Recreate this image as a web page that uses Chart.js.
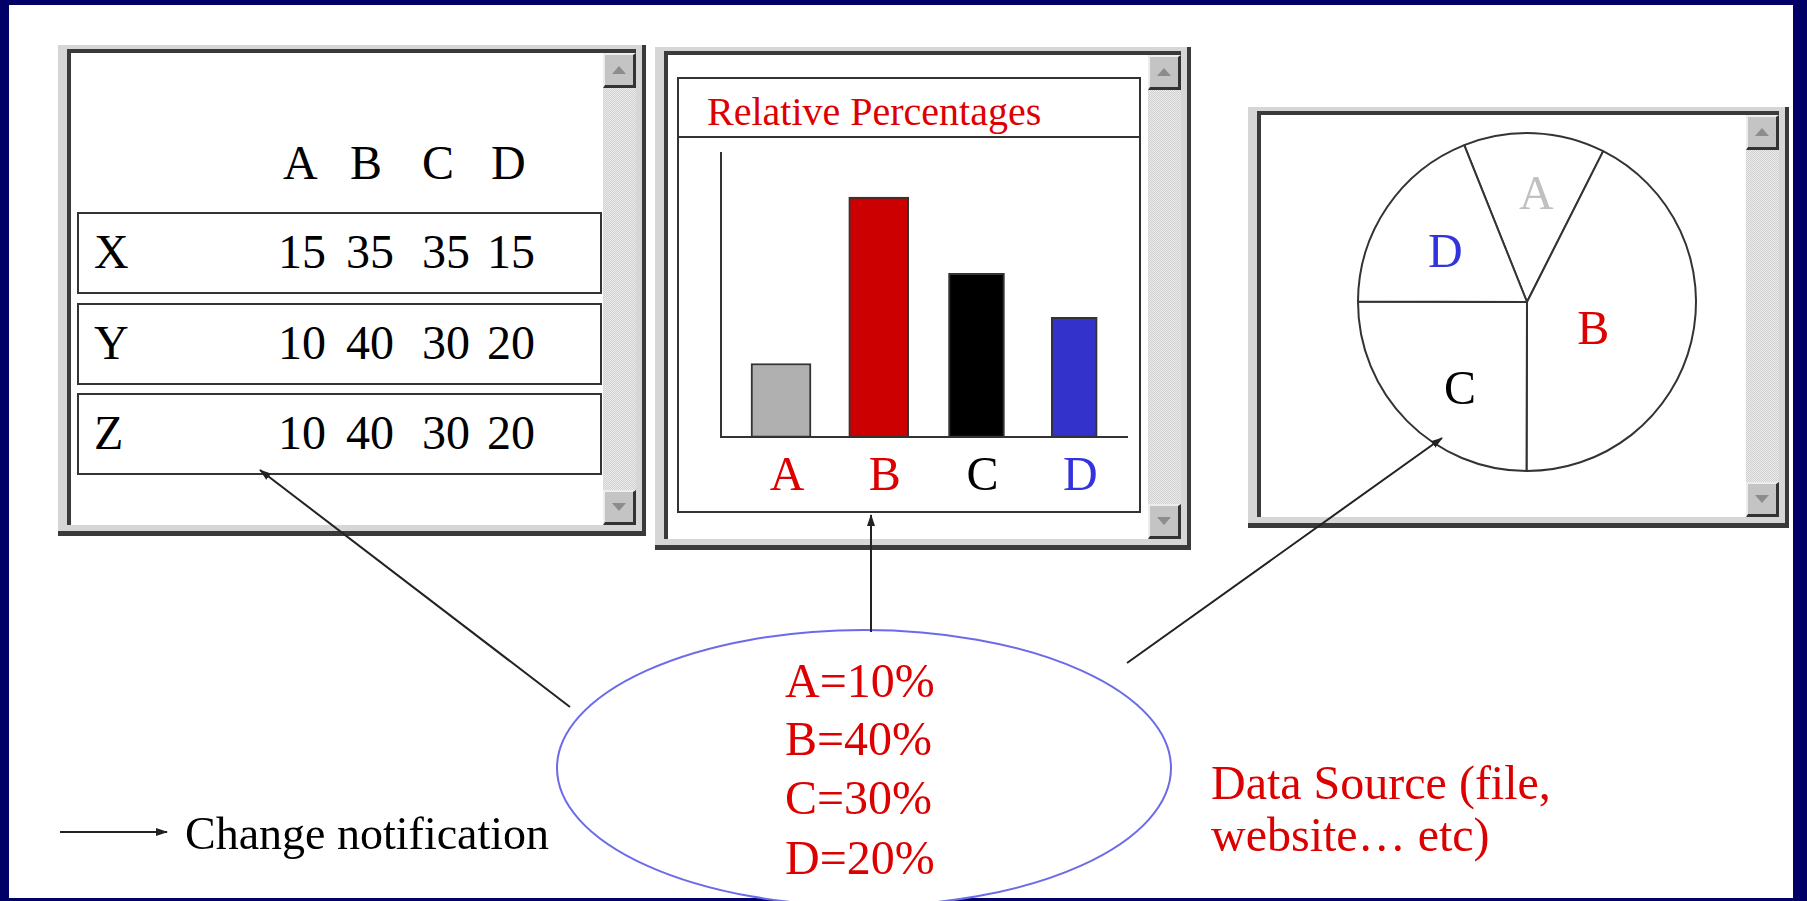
<!DOCTYPE html>
<html>
<head>
<meta charset="utf-8">
<title>Change notification</title>
<script src="https://cdn.jsdelivr.net/npm/chart.js@4.4.0/dist/chart.umd.min.js"></script>
<style>
html, body { margin: 0; padding: 0; }
body {
  width: 1807px; height: 901px; position: relative; overflow: hidden;
  background: #000066;
  font-family: 'Liberation Serif', 'Times New Roman', serif;
}
#slide { position: absolute; left: 9px; top: 5px; width: 1784px; height: 893px; background: #fff; }
.win {
  position: absolute; box-sizing: border-box; background: #d6d6d6;
  padding: 4px 6px 6px 9px;
  border-right: 4px solid #3a3a3a; border-bottom: 5px solid #3a3a3a;
}
.win .in {
  position: relative; width: 100%; height: 100%; box-sizing: border-box;
  border-top: 4px solid #3a3a3a; border-left: 4px solid #3a3a3a; background: #fff;
}
.sb {
  position: absolute; right: 0; top: 0; bottom: 0; width: 33px;
  background: repeating-conic-gradient(#d0d0d0 0 25%, #ebebeb 0 50%) 0 0 / 2px 2px;
}
.btn {
  position: absolute; left: 0; width: 33px; height: 35px; box-sizing: border-box;
  background: #c4c4c4;
  border-top: 2px solid #ededed; border-left: 2px solid #ededed;
  border-right: 3px solid #333; border-bottom: 3px solid #333;
}
.btn.up { top: 0; }
.btn.down { bottom: 0; }
.btn::after {
  content: ''; position: absolute; left: 7px; top: 11px;
  border-left: 7px solid transparent; border-right: 7px solid transparent;
}
.btn.up::after { border-bottom: 8px solid #8c8c8c; }
.btn.down::after { border-top: 8px solid #8c8c8c; }
.t { position: absolute; white-space: nowrap; line-height: 1; }
.box { position: absolute; box-sizing: border-box; border: 2px solid #333; background: #fff; }
#arrows { position: absolute; left: 0; top: 0; z-index: 5; pointer-events: none; }
canvas { position: absolute; }
</style>
</head>
<body>
<div id="slide"></div>

<div class="win" style="left:58px;top:45px;width:588px;height:491px">
  <div class="in"><div class="sb"><div class="btn up"></div><div class="btn down"></div></div></div>
</div>
<div class="win" style="left:655px;top:47px;width:536px;height:503px">
  <div class="in"><div class="sb"><div class="btn up"></div><div class="btn down"></div></div></div>
</div>
<div class="win" style="left:1248px;top:107px;width:541px;height:421px">
  <div class="in"><div class="sb"><div class="btn up"></div><div class="btn down"></div></div></div>
</div>

<div id="tabla"></div>

<div class="box" style="left:677px;top:77px;width:464px;height:436px"></div>
<div class="box" style="left:677px;top:77px;width:464px;height:61px;border-bottom-width:2px"></div>
<div id="titulo" class="t" style="left:707px;top:92px;font-size:40px;color:#dd0000">Relative Percentages</div>
<canvas id="barras" width="460" height="378" style="left:679px;top:139px"></canvas>

<canvas id="torta" width="400" height="400" style="left:1327px;top:102px"></canvas>

<svg id="arrows" width="1807" height="901">
  <defs>
    <marker id="ah" markerWidth="12" markerHeight="10" refX="11" refY="5" orient="auto" markerUnits="userSpaceOnUse">
      <path d="M0,1 L12,5 L0,9 z" fill="#222"/>
    </marker>
  </defs>
  <ellipse cx="864" cy="768" rx="307" ry="138" fill="#fff" stroke="#6b6bea" stroke-width="2"/>
  <line x1="570" y1="707" x2="260" y2="470" stroke="#222" stroke-width="2" marker-end="url(#ah)"/>
  <line x1="871" y1="632" x2="871" y2="515" stroke="#222" stroke-width="2" marker-end="url(#ah)"/>
  <line x1="1127" y1="663" x2="1442" y2="438" stroke="#222" stroke-width="2" marker-end="url(#ah)"/>
  <line x1="60" y1="832" x2="167" y2="832" stroke="#222" stroke-width="2" marker-end="url(#ah)"/>
</svg>

<div id="fuente"></div>
<div class="t" style="left:1211px;top:757px;font-size:48px;color:#dd0000;z-index:6;line-height:52px">Data Source (file,<br>website… etc)</div>
<div class="t" style="left:185px;top:811px;font-size:46px;color:#000;z-index:6">Change notification</div>

<script>
// datos
const categorias = ['A', 'B', 'C', 'D'];
const porcentajes = [10, 40, 30, 20];
const filas = ['X', 'Y', 'Z'];
const filaX = [15, 35, 35, 15];
const filaY = [10, 40, 30, 20];
const filaZ = [10, 40, 30, 20];
const alturasBarras = [12.3, 40, 27.3, 20];   // alturas como se dibujan
const porcionesTorta = [13.5, 42.6, 25, 18.9]; // tamaños de las porciones como se dibujan

const coloresBarras = ['#b0b0b0', '#cc0000', '#000000', '#3333cc'];
const coloresEtiquetas = ['#dd0000', '#dd0000', '#000000', '#3333dd'];
const coloresTorta = ['#c0c0c0', '#dd0000', '#000000', '#3333dd'];

// tabla de la izquierda
const tablaEl = document.getElementById('tabla');
const colEncabezado = [283, 350, 422, 491];
const colValores = [278, 346, 422, 487];
const topesFilas = [212, 303, 393];
const valoresFilas = [filaX, filaY, filaZ];

const texto = (contenido, left, base, size, color) => {
  const el = document.createElement('div');
  el.className = 't';
  el.textContent = contenido;
  el.style.left = left + 'px';
  el.style.top = (base - 0.84 * size) + 'px';
  el.style.fontSize = size + 'px';
  el.style.color = color;
  return el;
};

categorias.forEach((c, i) => tablaEl.appendChild(texto(c, colEncabezado[i], 179, 48, '#000')));
filas.forEach((f, r) => {
  const caja = document.createElement('div');
  caja.className = 'box';
  caja.style.cssText = `left:77px;top:${topesFilas[r]}px;width:525px;height:82px`;
  tablaEl.appendChild(caja);
  const base = topesFilas[r] + 56;
  tablaEl.appendChild(texto(f, 94, base, 48, '#000'));
  valoresFilas[r].forEach((v, i) => tablaEl.appendChild(texto(String(v), colValores[i], base, 48, '#000')));
});

// texto del ovalo
const fuenteEl = document.getElementById('fuente');
const basesOvalo = [697, 755, 814, 874];
categorias.forEach((c, i) => {
  const el = texto(`${c}=${porcentajes[i]}%`, 0, basesOvalo[i], 48, '#dd0000');
  el.style.left = '785px';
  el.style.zIndex = 6;
  fuenteEl.appendChild(el);
});

// grafico de barras
new Chart(document.getElementById('barras'), {
  type: 'bar',
  data: {
    datasets: categorias.map((c, i) => ({
      label: c,
      data: [{ x: i, y: alturasBarras[i] }],
      backgroundColor: coloresBarras[i],
      borderColor: '#333',
      borderWidth: 2,
      borderSkipped: false,
      grouped: false,
      barThickness: [60, 60, 56, 46][i]
    }))
  },
  options: {
    responsive: false,
    animation: false,
    layout: { padding: { left: 42, right: 12, top: 14, bottom: 0 } },
    plugins: { legend: { display: false }, tooltip: { enabled: false } },
    scales: {
      x: {
        type: 'linear',
        offset: false,
        min: -0.614,
        max: 3.54,
        grid: { display: false, drawTicks: false },
        border: { color: '#333', width: 2 },
        afterBuildTicks: (escala) => { escala.ticks = categorias.map((c, i) => ({ value: i })); },
        ticks: {
          autoSkip: false,
          maxRotation: 0,
          padding: 11,
          labelOffset: 6,
          callback: (v) => categorias[v],
          color: (ctx) => coloresEtiquetas[ctx.index],
          font: { family: 'Liberation Serif', size: 48 }
        }
      },
      y: {
        min: 0,
        max: 47.33,
        grid: { display: false, drawTicks: false },
        border: { color: '#333', width: 2 },
        ticks: { display: false }
      }
    }
  }
});

// grafico de torta
const etiquetasTorta = {
  id: 'etiquetasTorta',
  afterDatasetsDraw(chart, args, opts) {
    const { ctx } = chart;
    ctx.save();
    ctx.font = '48px "Liberation Serif"';
    ctx.textAlign = 'center';
    ctx.textBaseline = 'alphabetic';
    chart.getDatasetMeta(0).data.forEach((arco, i) => {
      const [t, r] = opts.lugar[i];
      const ang = arco.startAngle + (arco.endAngle - arco.startAngle) * t;
      const rad = arco.outerRadius * r;
      ctx.fillStyle = coloresTorta[i];
      ctx.fillText(categorias[i], arco.x + Math.cos(ang) * rad, arco.y + Math.sin(ang) * rad + 16);
    });
    ctx.restore();
  }
};

new Chart(document.getElementById('torta'), {
  type: 'pie',
  data: {
    labels: categorias,
    datasets: [{
      data: porcionesTorta,
      backgroundColor: '#fff',
      borderColor: '#333',
      borderWidth: 2,
      hoverOffset: 0
    }]
  },
  options: {
    responsive: false,
    animation: false,
    radius: 169,
    rotation: -21.8,
    plugins: {
      legend: { display: false },
      tooltip: { enabled: false },
      etiquetasTorta: { lugar: [[0.55, 0.65], [0.55, 0.42], [0.42, 0.645], [0.47, 0.57]] }
    }
  },
  plugins: [etiquetasTorta]
});
</script>
</body>
</html>
